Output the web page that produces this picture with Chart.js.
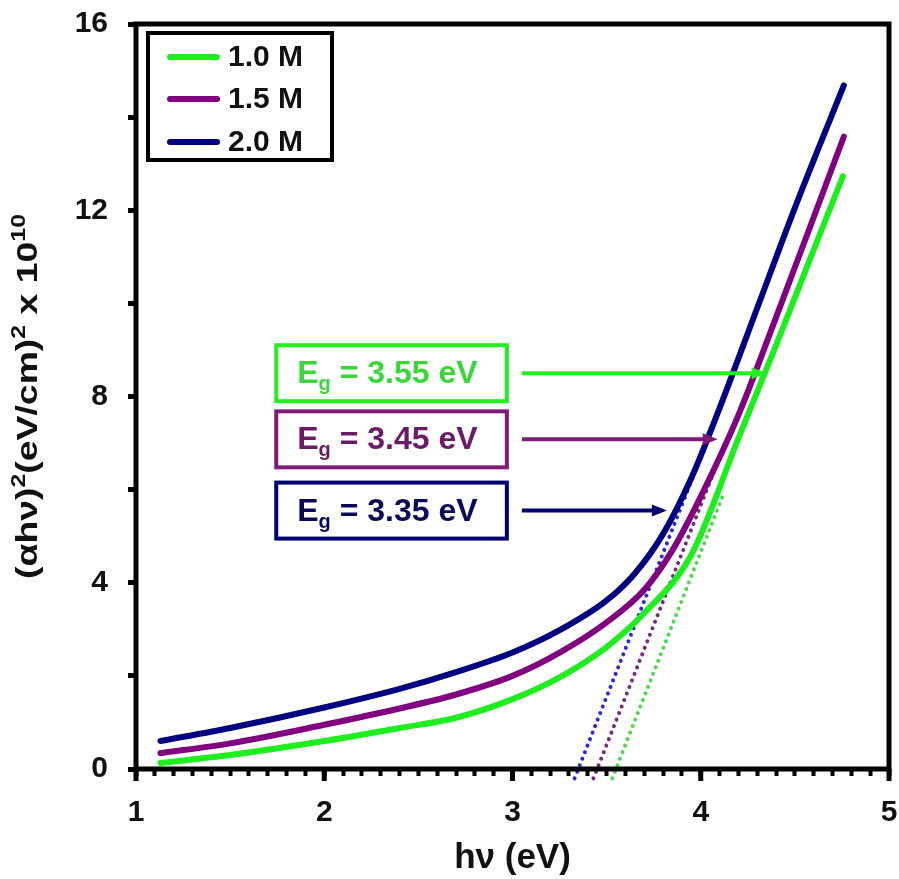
<!DOCTYPE html>
<html>
<head>
<meta charset="utf-8">
<script src="https://cdn.jsdelivr.net/npm/chart.js@4"></script>
<style>
    body { margin: 0; background: #fff; }
</style>
</head>
<body>
<canvas id="tauc-plot" width="899" height="879"></canvas>
<script>
// series labels
const concentrations = ['1.0 M', '1.5 M', '2.0 M'];

// 1.0 M
const hv10 = [1.13, 1.5, 2.0, 2.4, 2.7, 3.0, 3.25, 3.5, 3.7, 3.95, 4.2, 4.4, 4.6, 4.755];
const ah10 = [0.13, 0.30, 0.60, 0.88, 1.10, 1.50, 1.97, 2.62, 3.35, 4.60, 7.10, 9.10, 11.15, 12.73];

// 1.5 M
const hv15 = [1.13, 1.5, 2.0, 2.4, 2.7, 3.0, 3.25, 3.5, 3.7, 3.85, 4.0, 4.2, 4.4, 4.6, 4.76];
const ah15 = [0.34, 0.55, 0.95, 1.30, 1.60, 2.00, 2.50, 3.15, 3.85, 4.70, 5.85, 7.60, 9.70, 11.85, 13.58];

// 2.0 M
const hv20 = [1.13, 1.5, 2.0, 2.4, 2.7, 3.0, 3.25, 3.5, 3.65, 3.8, 3.95, 4.1, 4.3, 4.5, 4.76];
const ah20 = [0.60, 0.88, 1.32, 1.72, 2.08, 2.50, 2.98, 3.62, 4.20, 5.05, 6.25, 7.75, 9.90, 12.05, 14.68];

// linear fits (dotted), extrapolated to the axis
const fitHv10 = [3.53, 4.12];
const fitAh10 = [-0.2, 5.9];
const fitHv15 = [3.43, 4.14];
const fitAh15 = [-0.2, 7.1];
const fitHv20 = [3.33, 4.00];
const fitAh20 = [-0.2, 6.7];

// band gaps read from the fits
const bandGaps = ['3.55', '3.45', '3.35'];

const FONT = '"Liberation Sans", Arial, sans-serif';

function pts(xs, ys) {
    let out = [];
    for (let i = 0; i < xs.length; i++) {
        out.push({x: xs[i], y: ys[i]});
    }
    return out;
}

function curve(label, xs, ys, color) {
    return {
        label: label,
        data: pts(xs, ys),
        borderColor: color,
        borderWidth: 6,
        borderCapStyle: 'round',
        borderJoinStyle: 'round',
        cubicInterpolationMode: 'monotone',
        pointRadius: 0
    };
}

function fit(xs, ys, color) {
    return {
        data: pts(xs, ys),
        borderColor: color,
        borderWidth: 4,
        borderDash: [0.01, 7],
        borderCapStyle: 'round',
        pointRadius: 0,
        clip: false
    };
}

// annotation boxes with arrows, in data units
const notes = [
    {gap: bandGaps[0], cy: 8.5, tip: 4.35, line: '#22ee22', text: '#3ad63a'},
    {gap: bandGaps[1], cy: 7.08, tip: 4.09, line: '#801a78', text: '#6a1a66'},
    {gap: bandGaps[2], cy: 5.55, tip: 3.82, line: '#000070', text: '#0a0a5a'}
];

// y title pieces, sup = superscript
const yTitle = [
    {t: '(\u03b1h\u03bd)'}, {t: '2', sup: true},
    {t: '(eV/cm)'}, {t: '2', sup: true},
    {t: ' x 10'}, {t: '10', sup: true}
];

const framePlugin = {
    id: 'frame',
    afterDraw(chart) {
        const ctx = chart.ctx;
        const a = chart.chartArea;
        const xs = chart.scales.x;
        ctx.save();
        ctx.strokeStyle = '#000';
        ctx.lineWidth = 5;
        ctx.strokeRect(a.left, a.top, a.right - a.left, a.bottom - a.top);
        // longer major ticks on x
        for (let v = 1; v <= 5; v++) {
            const px = xs.getPixelForValue(v);
            ctx.beginPath();
            ctx.moveTo(px, a.bottom);
            ctx.lineTo(px, a.bottom + 12);
            ctx.stroke();
        }

        // y axis title with superscripts
        const big = 'bold 30px ' + FONT;
        const small = 'bold 20px ' + FONT;
        let total = 0;
        for (const p of yTitle) {
            ctx.font = p.sup ? small : big;
            total += ctx.measureText(p.t).width;
        }
        const sx = 365 / total;
        ctx.translate(26, (a.top + a.bottom) / 2);
        ctx.rotate(-Math.PI / 2);
        ctx.scale(sx, 1);
        ctx.fillStyle = '#111';
        ctx.textBaseline = 'alphabetic';
        ctx.textAlign = 'left';
        let x = -total / 2;
        for (const p of yTitle) {
            ctx.font = p.sup ? small : big;
            ctx.fillText(p.t, x, p.sup ? -1 : 11);
            x += ctx.measureText(p.t).width;
        }
        ctx.restore();
    }
};

const notesPlugin = {
    id: 'notes',
    afterDraw(chart) {
        const ctx = chart.ctx;
        const xs = chart.scales.x;
        const ys = chart.scales.y;
        ctx.save();
        for (const n of notes) {
            const left = xs.getPixelForValue(1.745);
            const right = xs.getPixelForValue(2.97);
            const cy = ys.getPixelForValue(n.cy);
            const h = 56;
            ctx.fillStyle = '#fff';
            ctx.fillRect(left, cy - h / 2, right - left, h);
            ctx.strokeStyle = n.line;
            ctx.lineWidth = 4;
            ctx.strokeRect(left, cy - h / 2, right - left, h);

            // E_g = x.xx eV
            ctx.fillStyle = n.text;
            ctx.textBaseline = 'alphabetic';
            ctx.textAlign = 'left';
            let tx = left + 21;
            const base = cy + 10;
            ctx.font = 'bold 32px ' + FONT;
            ctx.fillText('E', tx, base);
            tx += ctx.measureText('E').width;
            ctx.font = 'bold 20px ' + FONT;
            ctx.fillText('g', tx, base + 7);
            tx += ctx.measureText('g').width;
            ctx.font = 'bold 32px ' + FONT;
            ctx.fillText(' = ' + n.gap + ' eV', tx, base);

            // arrow
            const x0 = xs.getPixelForValue(3.05);
            const x1 = xs.getPixelForValue(n.tip);
            ctx.strokeStyle = n.line;
            ctx.fillStyle = n.line;
            ctx.lineWidth = 4;
            ctx.beginPath();
            ctx.moveTo(x0, cy);
            ctx.lineTo(x1 - 12, cy);
            ctx.stroke();
            ctx.beginPath();
            ctx.moveTo(x1, cy);
            ctx.lineTo(x1 - 15, cy - 6);
            ctx.lineTo(x1 - 15, cy + 6);
            ctx.closePath();
            ctx.fill();
        }
        ctx.restore();
    }
};

const legendPlugin = {
    id: 'legendBox',
    afterDraw(chart) {
        const ctx = chart.ctx;
        const a = chart.chartArea;
        const bx = a.left + 12;
        const by = a.top + 9;
        ctx.save();
        ctx.fillStyle = '#fff';
        ctx.fillRect(bx, by, 184, 127);
        ctx.strokeStyle = '#000';
        ctx.lineWidth = 4;
        ctx.strokeRect(bx, by, 184, 127);
        const rows = [24, 66, 109];
        ctx.font = 'bold 30px ' + FONT;
        ctx.textBaseline = 'middle';
        let i = 0;
        for (const ds of chart.data.datasets) {
            if (!ds.label) continue;
            const y = by + rows[i];
            ctx.strokeStyle = ds.borderColor;
            ctx.lineWidth = 6;
            ctx.lineCap = 'round';
            ctx.beginPath();
            ctx.moveTo(bx + 22, y);
            ctx.lineTo(bx + 69, y);
            ctx.stroke();
            ctx.fillStyle = '#111';
            ctx.fillText(ds.label, bx + 80, y + 1);
            i++;
        }
        ctx.restore();
    }
};

let chart = document.getElementById('tauc-plot').getContext('2d');
new Chart(chart, {
    type: 'line',
    data: {
        datasets: [
            curve(concentrations[0], hv10, ah10, '#1eee1e'),
            curve(concentrations[1], hv15, ah15, '#800080'),
            curve(concentrations[2], hv20, ah20, '#000080'),
            fit(fitHv10, fitAh10, '#4ed84e'),
            fit(fitHv15, fitAh15, '#7a2a7a'),
            fit(fitHv20, fitAh20, '#2a2ad8')
        ]
    },
    options: {
        responsive: false,
        animation: false,
        layout: {
            padding: {top: 24, right: 10, left: 0, bottom: 0}
        },
        plugins: {
            legend: {display: false},
            tooltip: {enabled: false}
        },
        scales: {
            x: {
                type: 'linear',
                min: 1,
                max: 5,
                afterFit(scale) {
                    scale.height = 110;
                    scale.paddingLeft = 0;
                    scale.paddingRight = 0;
                },
                border: {display: false},
                grid: {
                    drawOnChartArea: false,
                    tickLength: 7,
                    tickWidth: 4,
                    tickColor: '#000'
                },
                ticks: {
                    stepSize: 0.1,
                    maxTicksLimit: 100,
                    autoSkip: false,
                    maxRotation: 0,
                    padding: 19,
                    color: '#111',
                    font: {family: FONT, size: 30, weight: 'bold'},
                    callback: v => Math.abs(v - Math.round(v)) < 1e-6 ? Math.round(v) : ''
                },
                title: {
                    display: true,
                    text: 'h\u03bd (eV)',
                    color: '#111',
                    font: {family: FONT, size: 35, weight: 'bold'},
                    padding: {top: 0, bottom: 0}
                }
            },
            y: {
                min: 0,
                max: 16,
                afterFit(scale) {
                    scale.width = 136;
                    scale.paddingTop = 0;
                    scale.paddingBottom = 0;
                },
                border: {display: false},
                grid: {
                    drawOnChartArea: false,
                    tickLength: 8,
                    tickWidth: 5,
                    tickColor: '#000'
                },
                ticks: {
                    stepSize: 2,
                    padding: 20,
                    color: '#111',
                    font: {family: FONT, size: 30, weight: 'bold'},
                    callback: v => v % 4 === 0 ? v : ''
                }
            }
        }
    },
    plugins: [framePlugin, notesPlugin, legendPlugin]
});
</script>
</body>
</html>
